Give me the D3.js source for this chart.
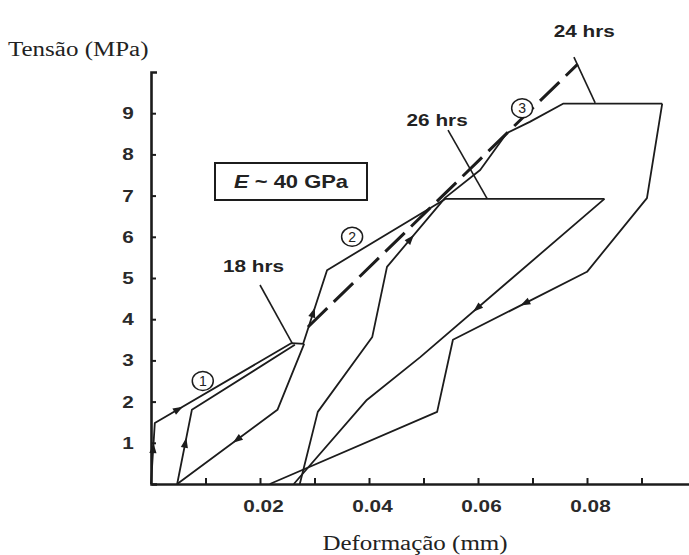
<!DOCTYPE html>
<html>
<head>
<meta charset="utf-8">
<script src="https://cdn.jsdelivr.net/npm/d3@7"></script>
<style>
  html, body { margin: 0; padding: 0; background: #fff; }
  svg { display: block; }
</style>
</head>
<body>
<svg id="chart" width="689" height="555"></svg>
<script>
// Stress–strain record of three load / creep / unload cycles.
// Each path is a list of [deformation (mm), stress (MPa)] pairs.
const stressTicks = [1, 2, 3, 4, 5, 6, 7, 8, 9];
const strainTicks = [0.01, 0.02, 0.03, 0.04, 0.05, 0.06, 0.07, 0.08, 0.09];
const strainLabels = ["0.02", "0.04", "0.06", "0.08"];

const load1   = [[0, 0], [0.0007, 1.48], [0.0258, 3.42], [0.0281, 3.40]];
const unload1 = [[0.0281, 3.40], [0.0232, 1.80], [0.0048, 0]];
const reload1 = [[0.0048, 0], [0.0075, 1.80], [0.0264, 3.38]];
const load2   = [[0.0279, 3.40], [0.0323, 5.19], [0.0540, 6.92], [0.0832, 6.92]];
const unload2 = [[0.0832, 6.92], [0.0494, 3.08], [0.0396, 2.04], [0.0262, 0]];
const reload2 = [[0.0273, 0], [0.0306, 1.75], [0.0406, 3.57], [0.0433, 5.27],
                 [0.0540, 6.95], [0.0604, 7.62], [0.0653, 8.52], [0.0695, 8.79],
                 [0.0756, 9.23], [0.0938, 9.23]];
const unload3 = [[0.0938, 9.23], [0.0910, 6.94], [0.0800, 5.15], [0.0554, 3.50],
                 [0.0525, 1.75], [0.0218, 0]];
// Elastic modulus reference line (E ~ 40 GPa)
const modulusLine = [[0.0288, 3.81], [0.0783, 10.19]];

// Direction arrows: [path, segment index, fraction along segment]
const arrows = [
  [load1, 0, 0.58], [load1, 1, 0.17], [reload1, 0, 0.55], [unload1, 1, 0.40],
  [load2, 0, 0.42], [reload2, 3, 0.40], [unload2, 0, 0.69], [unload3, 2, 0.46]
];

// Hold-time call-outs: label, label anchor, pointer start, pointer end
const holdLabels = [
  { text: "18 hrs", at: [0.0188, 5.15], from: [0.0200, 4.83], to: [0.0259, 3.42] },
  { text: "26 hrs", at: [0.0525, 8.70], from: [0.0545, 8.59], to: [0.0617, 6.92] },
  { text: "24 hrs", at: [0.0795, 10.85], from: [0.0776, 10.36], to: [0.0815, 9.25] }
];
// Cycle markers
const cycleMarks = [
  { n: "1", at: [0.0095, 2.50] },
  { n: "2", at: [0.0369, 6.00] },
  { n: "3", at: [0.0681, 9.12] }
];

const svg = d3.select("#chart");
const x = d3.scaleLinear().domain([0, 0.1]).range([151, 696]);
const y = d3.scaleLinear().domain([0, 10]).range([484, 72]);
const INK = "#1c1c1c";
const SX = 1.22; // horizontal stretch of the lettering

// Axes
const xAxis = d3.axisBottom(x)
  .tickValues(strainTicks)
  .tickSizeInner(-6).tickSizeOuter(0).tickPadding(16)
  .tickFormat(d => { const s = d.toFixed(2); return strainLabels.includes(s) ? s : ""; });
const gx = svg.append("g").attr("transform", `translate(0,${y(0)})`).call(xAxis);
gx.select(".domain").attr("stroke", INK).attr("stroke-width", 2.6);
gx.selectAll(".tick line").attr("stroke", INK).attr("stroke-width", 2);
gx.selectAll(".tick text")
  .attr("fill", "#2a2a2a").attr("font-family", "Liberation Sans, Arial, sans-serif")
  .attr("font-weight", "bold").attr("font-size", 17)
  .attr("transform", `translate(3,0) scale(${SX},1)`);

const yAxis = d3.axisLeft(y)
  .tickValues(stressTicks)
  .tickSizeInner(-5).tickSizeOuter(-6).tickPadding(0)
  .tickFormat(d3.format("d"));
const gy = svg.append("g").attr("transform", `translate(${x(0)},0)`).call(yAxis);
gy.select(".domain").attr("stroke", INK).attr("stroke-width", 2.6);
gy.selectAll(".tick line").attr("stroke", INK).attr("stroke-width", 2);
gy.selectAll(".tick text")
  .attr("fill", "#2a2a2a").attr("font-family", "Liberation Sans, Arial, sans-serif")
  .attr("font-weight", "bold").attr("font-size", 17)
  .attr("text-anchor", "middle").attr("x", 0)
  .attr("transform", `translate(-23,0) scale(${SX},1)`);

// Curves
const line = d3.line().x(d => x(d[0])).y(d => y(d[1]));
[load1, unload1, reload1, load2, unload2, reload2, unload3].forEach(p => {
  svg.append("path").attr("d", line(p))
    .attr("fill", "none").attr("stroke", INK).attr("stroke-width", 1.8)
    .attr("stroke-linejoin", "round");
});
svg.append("path").attr("d", line(modulusLine))
  .attr("fill", "none").attr("stroke", INK).attr("stroke-width", 3)
  .attr("stroke-dasharray", "27,9");

// Arrow heads
arrows.forEach(([p, i, t]) => {
  const a = [x(p[i][0]), y(p[i][1])], b = [x(p[i + 1][0]), y(p[i + 1][1])];
  const px = a[0] + (b[0] - a[0]) * t, py = a[1] + (b[1] - a[1]) * t;
  const ang = Math.atan2(b[1] - a[1], b[0] - a[0]) * 180 / Math.PI;
  svg.append("path").attr("d", "M5.5,0 L-4.5,-3.6 L-4.5,3.6 Z")
    .attr("fill", INK)
    .attr("transform", `translate(${px},${py}) rotate(${ang})`);
});

// Text helper with horizontal stretch
function label(px, py, str, size, opts = {}) {
  const t = svg.append("text")
    .attr("transform", `translate(${px},${py}) scale(${opts.sx || SX},1)`)
    .attr("text-anchor", opts.anchor || "middle")
    .attr("font-family", opts.family || "Liberation Sans, Arial, sans-serif")
    .attr("font-weight", opts.weight || "bold")
    .attr("font-size", size)
    .attr("fill", "#222");
  t.text(str);
  return t;
}

// Hold-time call-outs
holdLabels.forEach(h => {
  svg.append("line")
    .attr("x1", x(h.from[0])).attr("y1", y(h.from[1]))
    .attr("x2", x(h.to[0])).attr("y2", y(h.to[1]))
    .attr("stroke", INK).attr("stroke-width", 1.6);
  label(x(h.at[0]), y(h.at[1]), h.text, 17);
});

// Cycle markers
cycleMarks.forEach(c => {
  const cx = x(c.at[0]), cy = y(c.at[1]);
  svg.append("ellipse").attr("cx", cx).attr("cy", cy).attr("rx", 10.5).attr("ry", 9.5)
    .attr("fill", "#fff").attr("stroke", INK).attr("stroke-width", 1.5);
  label(cx, cy + 5, c.n, 14, { weight: "normal", sx: 1.0 });
});

// Modulus box
svg.append("rect").attr("x", 215).attr("y", 163).attr("width", 152).attr("height", 37)
  .attr("fill", "#fff").attr("stroke", INK).attr("stroke-width", 2);
const eText = label(291, 188, "", 18);
eText.append("tspan").attr("font-style", "italic").text("E");
eText.append("tspan").text(" ~ 40 GPa");

// Axis titles
label(8, 56, "Tensão (MPa)", 20, { anchor: "start", family: "Liberation Serif, Times New Roman, serif", weight: "normal", sx: 1.25 });
label(415, 550, "Deformação (mm)", 20, { family: "Liberation Serif, Times New Roman, serif", weight: "normal", sx: 1.25 });
</script>
</body>
</html>
